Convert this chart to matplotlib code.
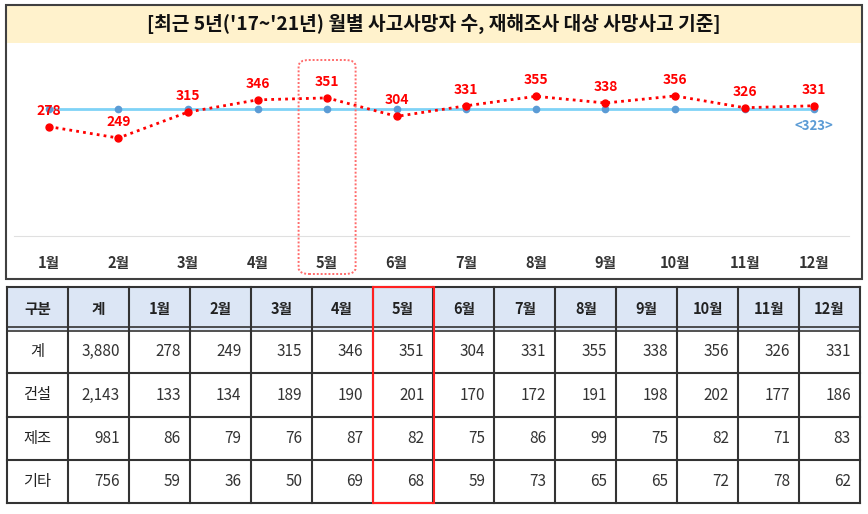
import numpy as np
import matplotlib
matplotlib.use("Agg")
import matplotlib.pyplot as plt
from matplotlib.patches import Rectangle, FancyBboxPatch

plt.rcParams['font.family'] = ['Noto Sans CJK KR', 'DejaVu Sans']

# data
months = ['1월', '2월', '3월', '4월', '5월', '6월', '7월', '8월', '9월', '10월', '11월', '12월']
total = [278, 249, 315, 346, 351, 304, 331, 355, 338, 356, 326, 331]
avg = 323
title = "[최근 5년('17~'21년) 월별 사고사망자 수, 재해조사 대상 사망사고 기준]"

row_names = ['계', '건설', '제조', '기타']
row_sums = ['3,880', '2,143', '981', '756']
construction = [133, 134, 189, 190, 201, 170, 172, 191, 198, 202, 177, 186]
manufacturing = [86, 79, 76, 87, 82, 75, 86, 99, 75, 82, 71, 83]
other = [59, 36, 50, 69, 68, 59, 73, 65, 65, 72, 78, 62]
header = ['구분', '계'] + months
highlight = '5월'

W, H = 868, 514
fig = plt.figure(figsize=(W / 100, H / 100), dpi=100)


def fx(px):
    return px / W


def fy(py):
    return 1 - py / H


# frame + title banner (figure pixel coords)
fig.patches.append(Rectangle((fx(6), fy(43)), fx(856), 38 / H, transform=fig.transFigure,
                             facecolor='#FFF2CC', edgecolor='none', zorder=0))
fig.patches.append(Rectangle((fx(6), fy(279)), fx(856), 274 / H, transform=fig.transFigure,
                             facecolor='none', edgecolor='#404040', lw=1.5, zorder=5))
fig.text(0.5, fy(24), title, ha='center', va='center', fontsize=13.8, fontweight='bold', color='#111111')

# line chart
ax = fig.add_axes([fx(14), fy(236), fx(835), 181 / H])
x = np.arange(1, 13)
ax.plot(x, [avg] * 12, color='#7FD3F7', lw=2, zorder=2)
ax.plot(x, [avg] * 12, ls='none', marker='o', ms=4.5, color='#5B9BD5', zorder=3)
ax.plot(x, total, color='#FF0000', lw=2, ls=(0, (1, 1.5)), marker='o', ms=5, zorder=4)
for xi, v in zip(x, total):
    ax.annotate(str(v), (xi, v), xytext=(0, 11.5), textcoords='offset points',
                ha='center', va='center', color='#FF0000', fontsize=10, fontweight='bold')
ax.annotate('<%d>' % avg, (12, avg), xytext=(0, -12.5), textcoords='offset points',
            ha='center', va='center', color='#5B9BD5', fontsize=9.5, fontweight='bold')
ax.set_xlim(0.5, 12.5)
ax.set_ylim(0, 460)
ax.set_xticks(x)
ax.set_xticklabels(months, fontsize=10.5, fontweight='bold', color='#333333')
ax.tick_params(axis='x', length=0, pad=14)
ax.set_yticks([])
for s in ['top', 'left', 'right']:
    ax.spines[s].set_visible(False)
ax.spines['bottom'].set_color('#E0E0E0')
ax.patch.set_alpha(0)

# highlight box around 5월
hi = months.index(highlight) + 1
bx0 = ax.transData.transform((hi - 0.41, 0))[0]
fig.patches.append(FancyBboxPatch((bx0 / W, fy(274)), fx(57), 214 / H, transform=fig.transFigure,
                                  boxstyle='round,pad=0,rounding_size=0.012', facecolor='none',
                                  edgecolor='#FF6B6B', lw=1.4, ls=(0, (1, 1)), zorder=6))

# table
tax = fig.add_axes([fx(7), fy(503), fx(853), 216 / H])
ncol = len(header)
nrow = len(row_names) + 1
tax.set_xlim(0, ncol)
tax.set_ylim(nrow, 0)
tax.axis('off')
tax.add_patch(Rectangle((0, 0), ncol, 1, facecolor='#DCE6F5', edgecolor='none'))
for j, h in enumerate(header):
    tax.text(j + 0.5, 0.5, h, ha='center', va='center', fontsize=10.5, fontweight='bold', color='#222222')

rows = [total, construction, manufacturing, other]
for i, (name, s, vals) in enumerate(zip(row_names, row_sums, rows)):
    yy = i + 1.5
    tax.text(0.5, yy, name, ha='center', va='center', fontsize=11, color='#222222')
    tax.text(1.85, yy, s, ha='right', va='center', fontsize=11, color='#333333')
    for j, v in enumerate(vals):
        tax.text(j + 2.85, yy, str(v), ha='right', va='center', fontsize=11, color='#333333')

lc = '#333333'
for j in range(ncol + 1):
    tax.plot([j, j], [0, nrow], color=lc, lw=1.5, clip_on=False)
for i in range(nrow + 1):
    if i == 1:
        tax.plot([0, ncol], [0.93, 0.93], color=lc, lw=1.2, clip_on=False)
        tax.plot([0, ncol], [1.03, 1.03], color=lc, lw=1.2, clip_on=False)
    else:
        tax.plot([0, ncol], [i, i], color=lc, lw=1.5, clip_on=False)
hc = header.index(highlight)
tax.add_patch(Rectangle((hc, 0), 1, nrow, facecolor='none', edgecolor='#FF2020', lw=1.5, zorder=5, clip_on=False))

fig.savefig('out.png', dpi=100)
